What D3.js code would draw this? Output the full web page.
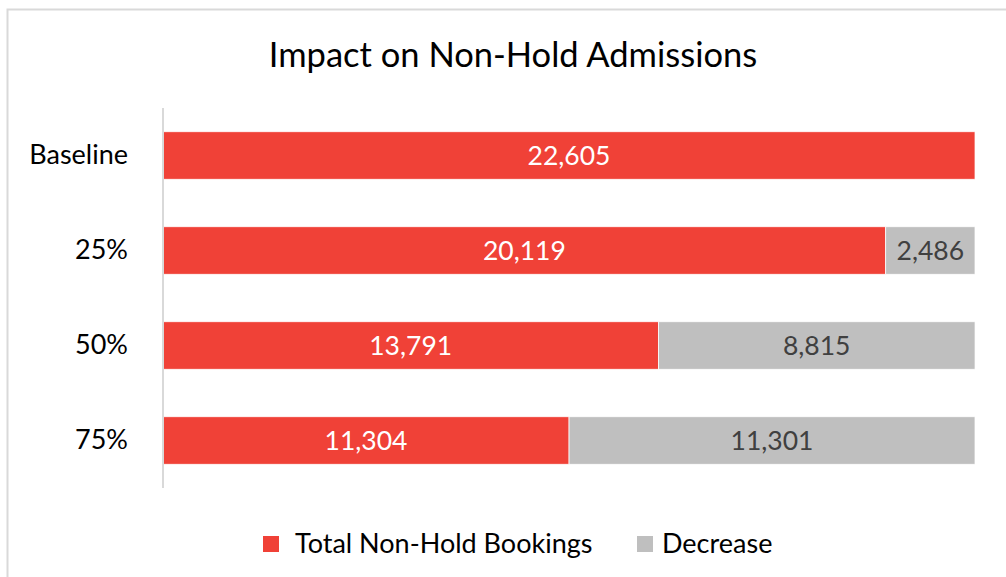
<!DOCTYPE html>
<html>
<head>
<meta charset="utf-8">
<script src="https://cdn.jsdelivr.net/npm/d3@7"></script>
<style>
  body { margin: 0; background: #fff; }
  svg { display: block; font-family: Lato, "Open Sans", sans-serif; }
</style>
</head>
<body>
<svg id="chart" width="1006" height="577"></svg>
<script>
// data
const categories = ["Baseline", "25%", "50%", "75%"];
const totalBookings = [22605, 20119, 13791, 11304];
const decrease = [null, 2486, 8815, 11301];
const seriesNames = ["Total Non-Hold Bookings", "Decrease"];
const seriesColors = ["#F04137", "#BFBFBF"];

const svg = d3.select("#chart");
const W = 1006, H = 577;

// outer chart frame
svg.append("rect")
    .attr("x", 7.5).attr("y", 9.5)
    .attr("width", W + 10).attr("height", H + 10)
    .attr("fill", "#fff")
    .attr("stroke", "#D9D9D9")
    .attr("stroke-width", 2);

svg.append("text")
    .attr("x", 513).attr("y", 67)
    .attr("text-anchor", "middle")
    .attr("font-size", 34.5)
    .attr("fill", "#000")
    .text("Impact on Non-Hold Admissions");

const x = d3.scaleLinear().domain([0, 22605]).range([163, 975]);
const y = d3.scaleBand().domain(categories).range([108, 488])
    .paddingInner(0.5).paddingOuter(0.25);

const rows = categories.map((c, i) => ({
    cat: c,
    parts: [
        {s: 0, x0: 0, x1: totalBookings[i], v: totalBookings[i]},
        decrease[i] == null ? null :
            {s: 1, x0: totalBookings[i], x1: totalBookings[i] + decrease[i], v: decrease[i]}
    ].filter(d => d)
}));

const row = svg.append("g").selectAll("g").data(rows).join("g");

row.selectAll("rect").data(d => d.parts.map(p => Object.assign({cat: d.cat}, p))).join("rect")
    .attr("x", d => x(d.x0))
    .attr("y", d => y(d.cat))
    .attr("width", d => x(d.x1) - x(d.x0))
    .attr("height", y.bandwidth())
    .attr("fill", d => seriesColors[d.s])
    .attr("stroke", "#fff")
    .attr("stroke-width", 0.75);

row.selectAll("text.val").data(d => d.parts.map(p => Object.assign({cat: d.cat}, p))).join("text")
    .attr("class", "val")
    .attr("x", d => (x(d.x0) + x(d.x1)) / 2)
    .attr("y", d => y(d.cat) + y.bandwidth() / 2)
    .attr("dy", "0.35em")
    .attr("text-anchor", "middle")
    .attr("font-size", 26.5)
    .attr("fill", d => d.s === 0 ? "#fff" : "#404040")
    .text(d => d3.format(",")(d.v));

// category axis
const yAxis = svg.append("g")
    .attr("transform", "translate(163,0)")
    .call(d3.axisLeft(y).tickSize(0).tickPadding(35));
yAxis.select(".domain").attr("stroke", "#D9D9D9").attr("stroke-width", 2)
    .attr("d", "M0,108V488");
yAxis.selectAll("text")
    .attr("font-family", "Lato, 'Open Sans', sans-serif")
    .attr("font-size", 27)
    .attr("fill", "#000");

// legend
const legendX = [263, 637];
const legend = svg.append("g").selectAll("g").data(seriesNames).join("g")
    .attr("transform", (d, i) => `translate(${legendX[i]},536)`);
legend.append("rect").attr("width", 16).attr("height", 16)
    .attr("fill", (d, i) => seriesColors[i]);
legend.append("text")
    .attr("x", (d, i) => i === 0 ? 32 : 25)
    .attr("y", 8).attr("dy", "0.35em")
    .attr("font-size", 27)
    .attr("fill", "#000")
    .text(d => d);
</script>
</body>
</html>
